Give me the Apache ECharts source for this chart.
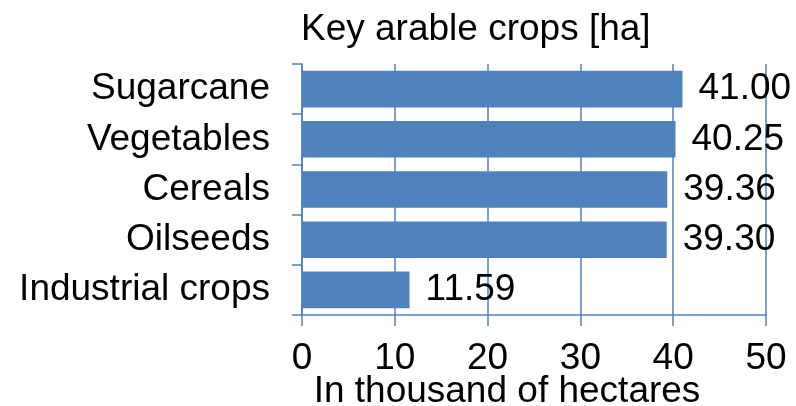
<!DOCTYPE html>
<html>
<head>
<meta charset="utf-8">
<script src="https://cdn.jsdelivr.net/npm/echarts@6/dist/echarts.min.js"></script>
<style>html,body{margin:0;padding:0;background:#fff}#c{width:796px;height:406px}</style>
</head>
<body>
<div id="c"></div>
<script>
const titleText = "Key arable crops [ha]";
const categories = ["Industrial crops", "Oilseeds", "Cereals", "Vegetables", "Sugarcane"];
const values = [11.59, 39.30, 39.36, 40.25, 41.00];
const axisName = "In thousand of hectares";
const xTicks = [0, 10, 20, 30, 40, 50];

const FONT = "Liberation Sans, Arial, sans-serif";
const FS = 37;
const lineColor = "#4f81bd";

const chart = echarts.init(document.getElementById('c'), null, {renderer: 'canvas'});
chart.setOption({
  animation: false,
  backgroundColor: '#ffffff',
  title: {
    text: titleText,
    left: 301,
    top: 11,
    padding: 0,
    textStyle: {fontFamily: FONT, fontSize: FS, fontWeight: 'normal', color: '#000'}
  },
  grid: {left: 302, right: 30, top: 64, bottom: 91, containLabel: false, outerBoundsMode: 'none'},
  xAxis: {
    type: 'value',
    min: xTicks[0],
    max: xTicks[xTicks.length - 1],
    interval: 10,
    name: axisName,
    nameLocation: 'middle',
    nameGap: 58,
    nameMoveOverlap: false,
    nameTextStyle: {fontFamily: FONT, fontSize: FS, color: '#000', padding: [0, 54, 0, 0]},
    axisLine: {show: true, lineStyle: {color: lineColor, width: 1.5}},
    axisTick: {show: true, length: 11, lineStyle: {color: lineColor, width: 1.5}},
    splitLine: {show: true, lineStyle: {color: lineColor, width: 1.5}},
    axisLabel: {fontFamily: FONT, fontSize: FS, color: '#000', margin: 25}
  },
  yAxis: {
    type: 'category',
    data: categories,
    axisLine: {show: true, lineStyle: {color: lineColor, width: 1.5}},
    axisTick: {show: true, length: 10, lineStyle: {color: lineColor, width: 1.5}},
    axisLabel: {fontFamily: FONT, fontSize: FS, color: '#000', margin: 32, interval: 0}
  },
  series: [{
    type: 'bar',
    data: values,
    barWidth: '73%',
    itemStyle: {color: '#4f81bd'},
    label: {
      show: true,
      position: 'right',
      distance: 16,
      fontFamily: FONT,
      fontSize: FS,
      color: '#000',
      formatter: p => p.value.toFixed(2)
    }
  }]
});
</script>
</body>
</html>
